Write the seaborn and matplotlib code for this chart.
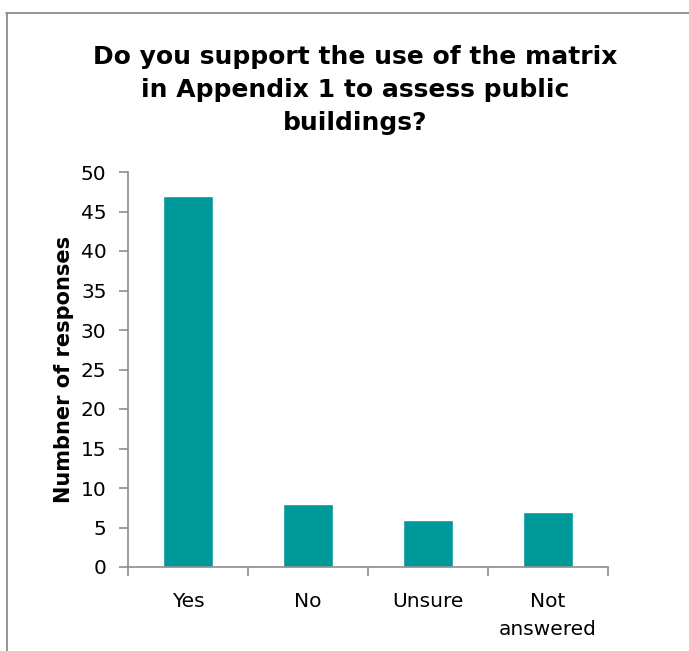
import matplotlib
matplotlib.use("Agg")
import matplotlib.pyplot as plt
from matplotlib.lines import Line2D
import seaborn as sns
import pandas as pd

categories = ["Yes", "No", "Unsure", "Not\nanswered"]
responses = [47, 8, 6, 7]
y_ticks = [0, 5, 10, 15, 20, 25, 30, 35, 40, 45, 50]

title = "Do you support the use of the matrix\nin Appendix 1 to assess public\nbuildings?"
y_label = "Numbner of responses"

sns.set_style("white")
plt.rcParams["font.family"] = ["DejaVu Sans"]
plt.rcParams["text.color"] = "black"
plt.rcParams["axes.labelcolor"] = "black"
plt.rcParams["xtick.color"] = "black"
plt.rcParams["ytick.color"] = "black"

W, H = 689, 651
fig = plt.figure(figsize=(W / 100, H / 100), dpi=100)
ax = fig.add_axes([128 / W, 1 - 567 / H, (608 - 128) / W, (567 - 172) / H])

df = pd.DataFrame({"category": categories, "responses": responses})
sns.barplot(data=df, x="category", y="responses", color="#009999",
            saturation=1, width=0.41, ax=ax)

axis_color = "#8c8c8c"
ax.set_xlim(-0.5, len(categories) - 0.5)
ax.set_ylim(0, 50)
ax.set_yticks(y_ticks)
ax.set_xticks(range(len(categories)))
ax.set_xticklabels(categories, fontsize=14.5, linespacing=1.6)
ax.set_xticks([i - 0.5 for i in range(len(categories) + 1)], minor=True)
ax.tick_params(axis="x", which="major", length=0, pad=18, bottom=False)
ax.tick_params(axis="x", which="minor", length=6.5, width=1.2, color=axis_color,
               direction="out", bottom=True)
ax.tick_params(axis="y", length=6.5, width=1.2, color=axis_color, labelcolor="black",
               direction="out", labelsize=14.5, pad=9, left=True)
ax.set_xlabel("")
ax.set_ylabel(y_label, fontsize=15, fontweight="bold", labelpad=5)

for side in ["top", "right"]:
    ax.spines[side].set_visible(False)
for side in ["left", "bottom"]:
    ax.spines[side].set_color(axis_color)
    ax.spines[side].set_linewidth(1.2)

fig.text(355 / W, 1 - 90 / H, title, ha="center", va="center",
         fontsize=18, fontweight="bold", linespacing=1.45)

# chart frame edges
fig.add_artist(Line2D([6 / W, 1], [1 - 13 / H, 1 - 13 / H], color="#8c8c8c", lw=1.3,
                      transform=fig.transFigure))
fig.add_artist(Line2D([7 / W, 7 / W], [0, 1 - 13 / H], color="#8c8c8c", lw=1.3,
                      transform=fig.transFigure))

fig.savefig("out.png", dpi=100)
